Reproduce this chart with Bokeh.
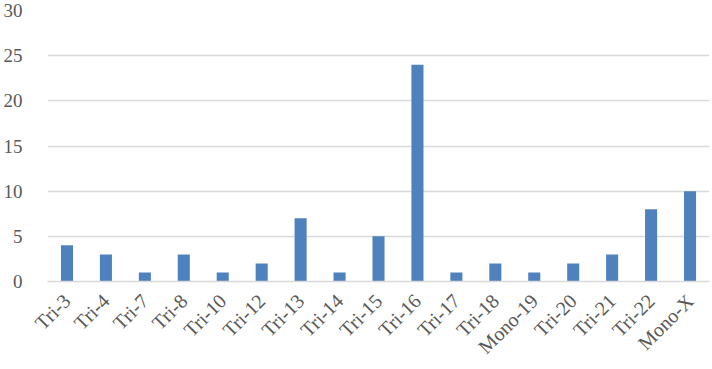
import math
from bokeh.plotting import figure
from bokeh.models import ColumnDataSource, FixedTicker
from bokeh.embed import file_html
from bokeh.resources import INLINE

categories = ["Tri-3", "Tri-4", "Tri-7", "Tri-8", "Tri-10", "Tri-12", "Tri-13", "Tri-14",
              "Tri-15", "Tri-16", "Tri-17", "Tri-18", "Mono-19", "Tri-20", "Tri-21",
              "Tri-22", "Mono-X"]
counts = [4, 3, 1, 3, 1, 2, 7, 1, 5, 24, 1, 2, 1, 2, 3, 8, 10]
y_ticks = [0, 5, 10, 15, 20, 25, 30]

source = ColumnDataSource(data=dict(cat=categories, val=counts))

p = figure(x_range=categories, y_range=(0, 30), width=712, height=369,
           output_backend="svg", toolbar_location=None,
           min_border_left=41, min_border_right=3, min_border_top=10,
           min_border_bottom=88)
p.outline_line_color = None
p.vbar(x="cat", top="val", width=0.31, source=source,
       fill_color="#4F81BD", line_color=None)

p.x_range.range_padding = 0.0
p.yaxis.ticker = FixedTicker(ticks=y_ticks)
p.ygrid.grid_line_color = "#D9D9D9"
p.ygrid.grid_line_width = 1.3
p.xgrid.grid_line_color = None

for ax in (p.xaxis, p.yaxis):
    ax.major_tick_line_color = None
    ax.minor_tick_line_color = None
    ax.major_label_text_font = "Liberation Serif"
    ax.major_label_text_color = "#595959"

p.yaxis.major_label_text_font_size = "19px"
p.xaxis.major_label_text_font_size = "20px"
p.yaxis.axis_line_color = None
p.yaxis.major_label_standoff = 19
p.xaxis.axis_line_color = "#D9D9D9"
p.xaxis.axis_line_width = 1.3
p.xaxis.major_label_orientation = math.pi / 4
p.xaxis.major_label_standoff = 10

open("out.html", "w").write(file_html(p, INLINE))
